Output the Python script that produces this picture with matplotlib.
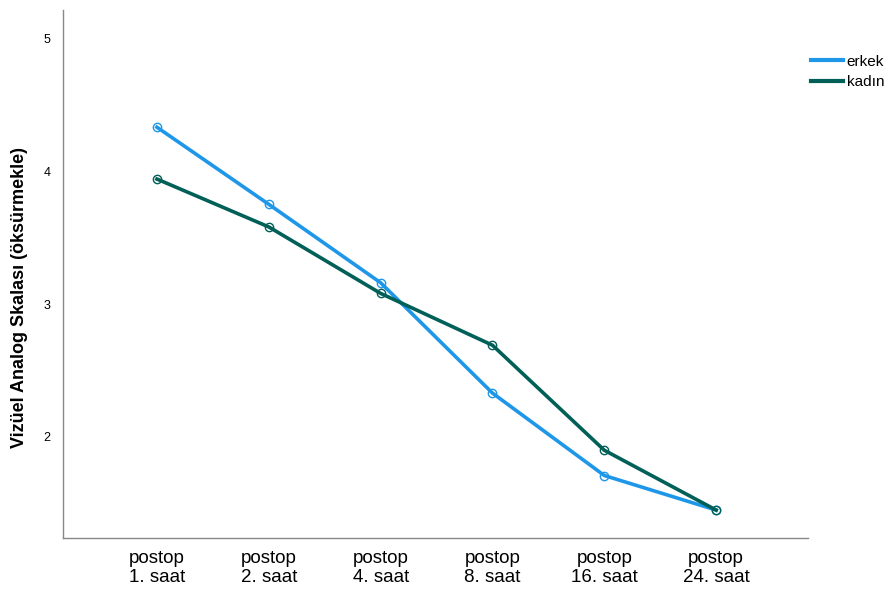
import matplotlib.pyplot as plt
import numpy as np

plt.rcParams['font.family'] = ['Liberation Sans', 'DejaVu Sans']

# zaman noktaları ve ortalama VAS (öksürmekle) değerleri
labels = ['postop\n1. saat', 'postop\n2. saat', 'postop\n4. saat',
          'postop\n8. saat', 'postop\n16. saat', 'postop\n24. saat']
erkek = [4.33, 3.75, 3.16, 2.33, 1.71, 1.45]
kadin = [3.94, 3.58, 3.08, 2.69, 1.90, 1.45]

c_erkek = '#1f97e8'
c_kadin = '#006058'

fig = plt.figure(figsize=(8.91, 5.91), dpi=100)
ax = fig.add_axes([0.0707, 0.0897, 0.836, 0.893])

x = np.arange(len(labels))
ax.plot(x, erkek, color=c_erkek, lw=2.6, marker='o', ms=6,
        mfc='none', mec=c_erkek, mew=1.0)
ax.plot(x, kadin, color=c_kadin, lw=2.6, marker='o', ms=6,
        mfc='none', mec=c_kadin, mew=1.0)
# lejant sadece çizgi
ax.plot([], [], color=c_erkek, lw=3, label='erkek')
ax.plot([], [], color=c_kadin, lw=3, label='kadın')

ax.set_xlim(-0.84, 5.82)
ax.set_ylim(1.24, 5.21)
ax.set_yticks([2, 3, 4, 5])
ax.set_yticklabels(['2', '3', '4', '5'], fontsize=9)
ax.set_xticks(x)
ax.set_xticklabels(labels, fontsize=13.5, linespacing=1.12)
ax.tick_params(axis='both', length=0, colors='black')
ax.tick_params(axis='y', pad=9)
ax.tick_params(axis='x', pad=9)

for s in ['top', 'right']:
    ax.spines[s].set_visible(False)
for s in ['left', 'bottom']:
    ax.spines[s].set_color('#888888')
    ax.spines[s].set_linewidth(1.0)

ax.set_ylabel('Vizüel Analog Skalası (öksürmekle)', fontsize=13,
              fontweight='bold')
ax.yaxis.set_label_coords(-0.047, 0.456)

leg = ax.legend(loc='upper left', bbox_to_anchor=(1.004, 0.916), frameon=False,
                fontsize=11, handlelength=2.1, handletextpad=0.25,
                labelspacing=0.45, borderpad=0, borderaxespad=0)

plt.savefig('out.png', dpi=100)
